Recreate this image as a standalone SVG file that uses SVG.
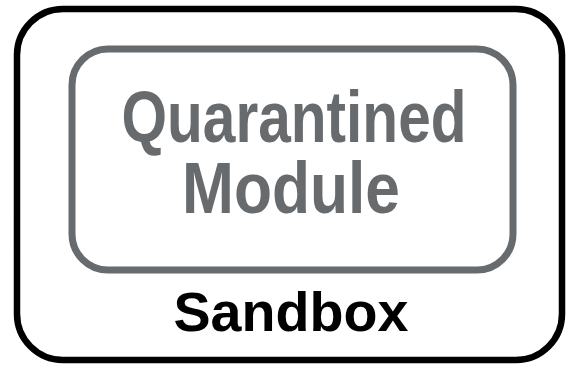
<svg xmlns="http://www.w3.org/2000/svg" width="566" height="365" viewBox="0 0 566 365">
<style>
.outer{fill:#fff;stroke:#000;stroke-width:6.5}
.inner{fill:#fff;stroke:#686b6e;stroke-width:7}
.t{font-family:"Liberation Sans",Arial,sans-serif;font-weight:bold;text-anchor:middle}
.g{fill:#686b6e;font-size:72px}
.b{fill:#000;font-size:55px}
</style>
<rect width="566" height="365" fill="#fff"/>
<g id="sandbox">
<rect class="outer" x="17" y="9" width="545" height="351" rx="46" ry="46"/>
<text class="t b" x="291" y="331" textLength="235" lengthAdjust="spacingAndGlyphs">Sandbox</text>
</g>
<g id="quarantined-module">
<rect class="inner" x="72" y="49" width="441" height="221" rx="36" ry="36"/>
<text class="t g" x="294" y="142" textLength="345" lengthAdjust="spacingAndGlyphs">Quarantined</text>
<text class="t g" x="291" y="213" textLength="218" lengthAdjust="spacingAndGlyphs">Module</text>
</g>
<g id="connectors"/>
</svg>
